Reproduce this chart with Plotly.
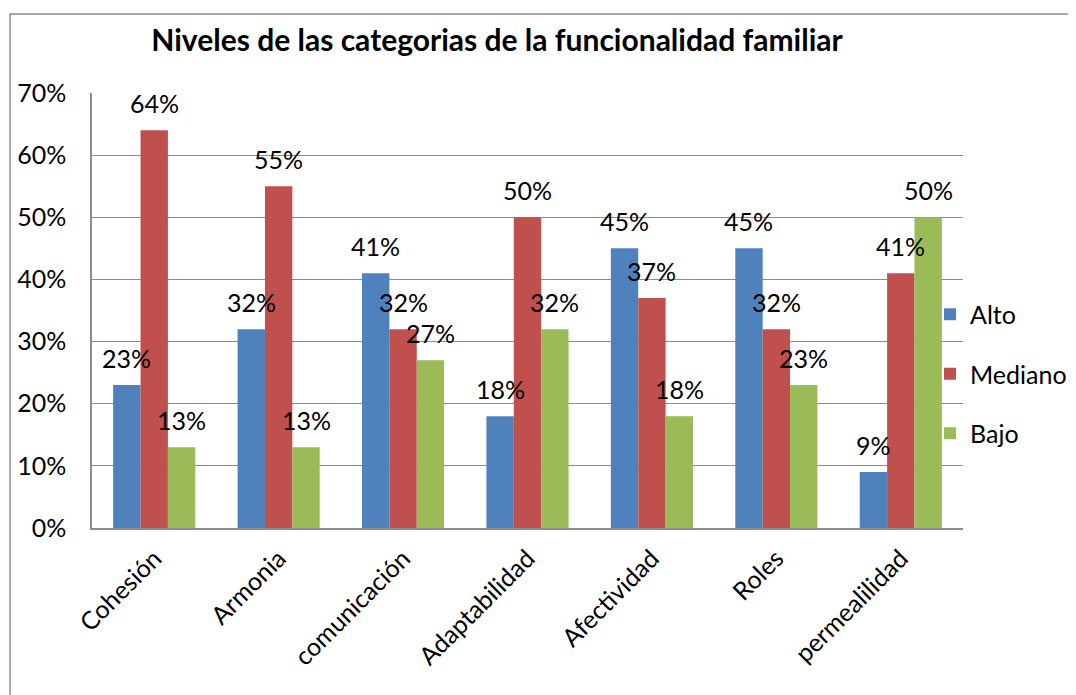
import plotly.graph_objects as go

categories = ["Cohesión", "Armonia", "comunicación", "Adaptabilidad", "Afectividad", "Roles", "permealilidad"]
alto = [23, 32, 41, 18, 45, 45, 9]
mediano = [64, 55, 32, 50, 37, 32, 41]
bajo = [13, 13, 27, 32, 18, 23, 50]
series_names = ["Alto", "Mediano", "Bajo"]
colors = ["#4F81BD", "#C0504D", "#9BBB59"]

FONT = "Lato, Carlito, Calibri, sans-serif"
FS = 25
BARGAP = 0.34
W, H = 1068, 687  # page body has an 8px margin

fig = go.Figure()
all_series = [alto, mediano, bajo]
for name, vals, col in zip(series_names, all_series, colors):
    fig.add_trace(go.Bar(
        name=name, x=categories, y=[v / 100 for v in vals],
        marker=dict(color=col, line=dict(width=0)),
        legendgroup=name,
    ))

bar_w = (1 - BARGAP) / 3
for k, vals in enumerate(all_series):
    for i, v in enumerate(vals):
        fig.add_annotation(
            x=i + (k - 1) * bar_w, y=v / 100, xref="x", yref="y",
            text=f"{v}%", showarrow=False, yanchor="middle", yshift=27,
            font=dict(family=FONT, size=FS, color="black"),
        )

# outer chart border
fig.add_shape(type="rect", xref="paper", yref="paper",
              x0=-0.0941, x1=1.3, y0=-0.6, y1=1.1816,
              line=dict(color="#8c8c8c", width=1.5), fillcolor="rgba(0,0,0,0)", layer="below")

fig.update_layout(
    width=W, height=H,
    barmode="group", bargap=BARGAP, bargroupgap=0,
    paper_bgcolor="white", plot_bgcolor="white",
    margin=dict(l=84, r=113, t=85, b=167, autoexpand=False),
    font=dict(family=FONT, size=FS, color="black"),
    title=dict(text="<b>Niveles de las categorias de la funcionalidad familiar</b>",
               x=489 / W, xanchor="center", xref="container",
               y=1 - 32 / H, yanchor="middle", yref="container",
               font=dict(family=FONT, size=30, color="black")),
    legend=dict(x=922 / W, xanchor="left", xref="container",
                y=1 - 366 / H, yanchor="middle", yref="container",
                font=dict(family=FONT, size=FS, color="black"),
                tracegroupgap=24, bgcolor="rgba(0,0,0,0)"),
    showlegend=True,
)
fig.update_yaxes(range=[0, 0.7], dtick=0.1, tickformat=".0%",
                 showgrid=True, gridcolor="#8c8c8c", gridwidth=1,
                 showline=True, linecolor="#8c8c8c", linewidth=1.5,
                 zeroline=False, ticks="", ticklabelstandoff=19,
                 tickfont=dict(family=FONT, size=FS, color="black"))
fig.update_xaxes(tickangle=-45, showline=True, linecolor="#8c8c8c", linewidth=2,
                 ticks="", ticklabelstandoff=4, automargin=False,
                 tickfont=dict(family=FONT, size=FS, color="black"))
fig.update_yaxes(automargin=False)

fig.write_html("out.html")
